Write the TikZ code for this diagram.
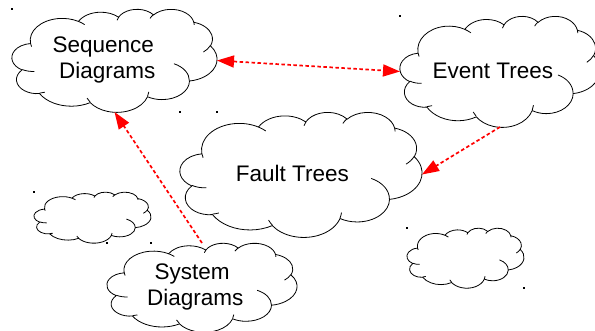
\documentclass[tikz,border=0pt]{standalone}
\usepackage{fontspec}
\setmainfont{Liberation Sans}
\usetikzlibrary{arrows.meta}

\tikzset{
  cloudbox/.style={rectangle, inner sep=0pt, outer sep=0pt},
  cloudline/.style={draw=black, line width=0.8pt},
  cloudtext/.style={font=\fontsize{22.5}{26}\selectfont, align=center, inner sep=0pt},
  link/.style={draw=red, line width=1.7pt, dash pattern=on 3.5pt off 2.5pt},
  redtip/.tip={Triangle[length=17pt, width=12pt]}
}

% cloud of the office kind: name, left, top, width, height, text
\newcommand{\officecloud}[6]{%
  \node[cloudbox, minimum width=#4pt, minimum height=#5pt] (#1) at ({#2+#4/2},{#3+#5/2}) {};
  \begin{scope}[shift={(#1.north west)}, xscale=#4/43.2, yscale=#5/43.2]
    \draw[cloudline, fill=white] (3.900,14.370)
      arc[start angle=-187.745, end angle=-59.634, x radius=6.753, y radius=9.190]
      arc[start angle=-152.03, end angle=-45.45, x radius=5.333, y radius=7.267]
      arc[start angle=-153.50, end angle=-37.35, x radius=4.365, y radius=5.945]
      arc[start angle=-139.71, end angle=-10.21, x radius=4.857, y radius=6.595]
      arc[start angle=-74.77, end angle=23.21, x radius=5.333, y radius=7.273]
      arc[start angle=-37.52, end angle=81.86, x radius=6.775, y radius=9.220]
      arc[start angle=0.46, end angle=121.98, x radius=5.785, y radius=7.867]
      arc[start angle=16.84, end angle=146.23, x radius=6.752, y radius=9.215]
      arc[start angle=58.98, end angle=150.19, x radius=7.720, y radius=10.543]
      arc[start angle=83.31, end angle=223.11, x radius=4.360, y radius=5.918]
      arc[start angle=120.35, end angle=264.11, x radius=4.345, y radius=5.945]
      -- cycle;
    % inner curls
    \draw[cloudline]
      (4.693,26.177) arc[start angle=85.55, end angle=120.35, x radius=4.345, y radius=5.945]
      (6.928,34.899) arc[start angle=68.24, end angle=83.31, x radius=4.360, y radius=5.918]
      (16.478,39.090) arc[start angle=146.23, end angle=158.48, x radius=6.752, y radius=9.215]
      (28.827,34.751) arc[start angle=4.74, end angle=16.84, x radius=6.752, y radius=9.215]
      (34.129,22.954) arc[start angle=-64.03, end angle=0.46, x radius=5.785, y radius=7.867]
      (41.798,15.354) arc[start angle=23.21, end angle=49.64, x radius=5.333, y radius=7.273]
      (38.324,5.426) arc[start angle=-10.21, end angle=0.82, x radius=4.857, y radius=6.595]
      (29.078,3.952) arc[start angle=-156.29, end angle=-139.71, x radius=4.857, y radius=6.595]
      (22.141,4.720) arc[start angle=-167.73, end angle=-153.50, x radius=4.365, y radius=5.945]
      (14.000,5.192) arc[start angle=-59.63, end angle=-45.73, x radius=6.753, y radius=9.190]
      (4.127,15.789) arc[start angle=163.19, end angle=172.25, x radius=6.753, y radius=9.190];
  \end{scope}
  \node[cloudtext] (#1text) at ({#2+0.4644*#4},{#3+0.4768*#5+2}) {#6};}

\begin{document}
\begin{tikzpicture}[x=1pt, y=-1pt]
  \useasboundingbox (0,0) rectangle (595,331);
  \fill[white] (0,0) rectangle (595,331);
  % clouds: left, top, width, height
  \officecloud{seq}{12}{9}{205}{103}{Sequence\kern0.35em\\Diagrams}
  \officecloud{event}{400}{16}{200}{111}{Event Trees}
  \officecloud{fault}{180}{112}{242}{125}{Fault Trees}
  \officecloud{blankleft}{34}{192}{117}{51}{}
  \officecloud{sys}{107}{243}{190}{89}{System\kern0.28em\\Diagrams}
  \officecloud{blankright}{407}{228}{117}{60}{}
  % corner marks
  \foreach \px/\py in {12/9, 217/112, 400/16, 180/112, 34/192, 151/243, 107/243, 407/228, 524/288}
    \fill[black] (\px-1,\py-1) rectangle (\px+1,\py+1);
  % links
  \draw[link, redtip-redtip] (seq.east) -- (event.west);
  \draw[link, -redtip] (event.south) -- (fault.east);
  \draw[link, -redtip] (sys.north) -- (seq.south);
\end{tikzpicture}
\end{document}
